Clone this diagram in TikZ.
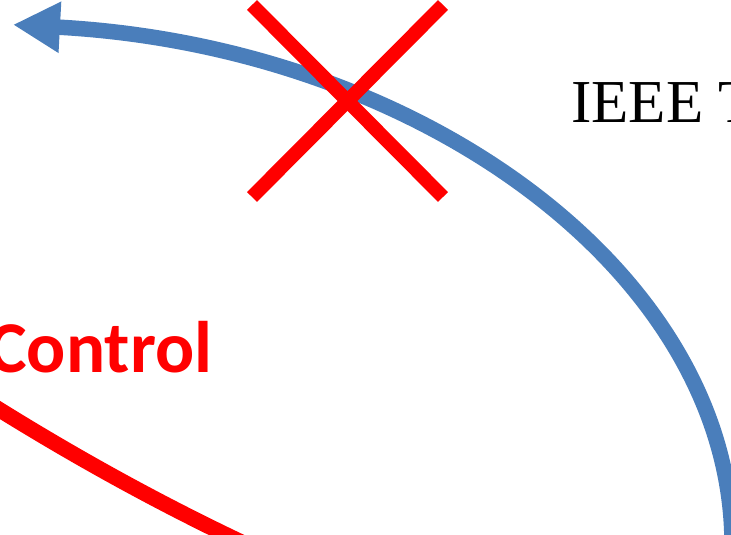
\documentclass[tikz,border=0pt]{standalone}
\usepackage{fontspec}
\usetikzlibrary{arrows.meta}
\newfontfamily\titlefont{Liberation Serif}
\newfontfamily\labelfont{Carlito}
\definecolor{loopblue}{RGB}{74,126,187}
\definecolor{markred}{RGB}{255,0,0}
\tikzset{
  flowarc/.style={draw=loopblue, line width=15.5pt, line cap=butt,
    -{Triangle[length=47pt,width=48pt]}},
  ctrlarc/.style={draw=markred, line width=15.5pt},
  crossbar/.style={draw=markred, line width=14pt, line cap=butt},
  ctrllabel/.style={inner sep=0pt, text=markred,
    font=\labelfont\bfseries\fontsize{73}{80}\selectfont},
  titlelabel/.style={inner sep=0pt, text=black,
    font=\titlefont\fontsize{61}{70}\selectfont}
}
\begin{document}
\begin{tikzpicture}[x=1pt,y=1pt]
  \useasboundingbox (0,0) rectangle (731,535);
  \clip (0,0) rectangle (731,535);

  % large feedback arc with its arrow head at the upper left
  \draw[flowarc] (-50,-10) ++(-3:782 and 522)
    arc[start angle=-3, end angle=85.38, x radius=782, y radius=522];

  % lower control loop
  \coordinate (cstart) at (-10,131.2);
  \coordinate (cend) at (270,-20.5);
  \draw[ctrlarc] (cstart) .. controls (83.3,72.8) and (176.7,22.2) .. (cend);

  % cross marking the broken path
  \coordinate (xa) at (252,530);
  \coordinate (xb) at (443,338);
  \coordinate (xc) at (443,530);
  \coordinate (xd) at (252,338);
  \draw[crossbar] (xa) -- (xb);
  \draw[crossbar] (xc) -- (xd);

  % labels
  \node[titlelabel, anchor=base west] (title) at (571,412.3) {IEEE T};
  \node[ctrllabel, anchor=base east] (ctrl) at (212.5,162) {Control};
\end{tikzpicture}
\end{document}
